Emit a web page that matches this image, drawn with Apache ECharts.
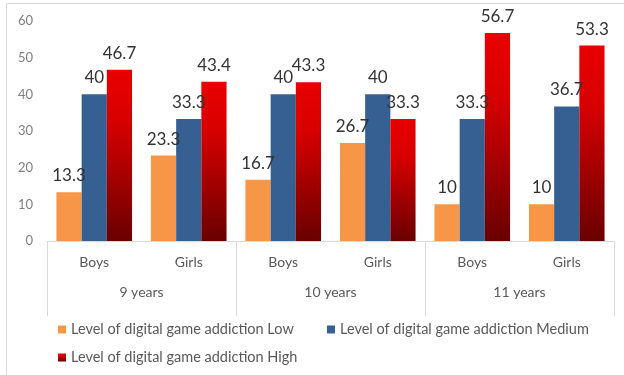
<!DOCTYPE html>
<html>
<head>
<meta charset="utf-8">
<script src="https://cdn.jsdelivr.net/npm/echarts@6/dist/echarts.min.js"></script>
<style>
  html, body { margin: 0; padding: 0; background: #fff; }
  #chart { width: 624px; height: 375px; }
</style>
</head>
<body>
<div id="chart"></div>
<script>
// Category labels: gender within each age group
const genders = ['Boys', 'Girls', 'Boys', 'Girls', 'Boys', 'Girls'];
const ageGroups = ['9 years', '10 years', '11 years'];

// Percentages per addiction level
const lowValues = [13.3, 23.3, 16.7, 26.7, 10, 10];
const mediumValues = [40, 33.3, 40, 40, 33.3, 36.7];
const highValues = [46.7, 43.4, 43.3, 33.3, 56.7, 53.3];

const seriesNames = [
  'Level of digital game addiction Low',
  'Level of digital game addiction Medium',
  'Level of digital game addiction High'
];

const FONT = 'Lato, "Open Sans", sans-serif';

const redGradient = new echarts.graphic.LinearGradient(0, 0, 0, 1, [
  { offset: 0, color: '#e80000' },
  { offset: 0.3, color: '#d80000' },
  { offset: 1, color: '#690000' }
]);

const labelStyle = {
  show: true,
  position: 'top',
  distance: 8,
  color: '#333333',
  fontSize: 17,
  fontFamily: FONT
};

function makeSeries(name, data, color) {
  return {
    name: name,
    type: 'bar',
    data: data,
    barGap: '0%',
    barCategoryGap: '20%',
    itemStyle: { color: color },
    label: labelStyle
  };
}

const legendText = { color: '#595959', fontSize: 14.5, fontFamily: FONT };

function legendAt(left, top, names) {
  return {
    left: left,
    top: top,
    itemWidth: 8,
    itemHeight: 8,
    itemGap: 20,
    icon: 'rect',
    textStyle: legendText,
    data: names
  };
}

const chart = echarts.init(document.getElementById('chart'), null, { renderer: 'canvas' });

chart.setOption({
  animation: false,
  backgroundColor: '#ffffff',
  textStyle: { fontFamily: FONT },
  grid: { left: 47, right: 10, top: 21, bottom: 134, containLabel: false },
  graphic: [
    {
      type: 'polyline',
      shape: { points: [[6.5, 400], [6.5, 3.5], [700, 3.5]] },
      style: { stroke: '#d9d9d9', lineWidth: 1, fill: null },
      silent: true
    }
  ],
  legend: [
    legendAt(53, 317, [seriesNames[0]]),
    legendAt(322, 317, [seriesNames[1]]),
    legendAt(53, 345, [seriesNames[2]])
  ],
  xAxis: [
    {
      type: 'category',
      data: genders,
      position: 'bottom',
      axisLine: { show: true, lineStyle: { color: '#d9d9d9' } },
      axisTick: { show: false },
      axisLabel: { color: '#595959', fontSize: 14, fontFamily: FONT, margin: 14 }
    },
    {
      type: 'category',
      data: ageGroups,
      position: 'bottom',
      axisLine: { show: false },
      axisTick: { show: true, length: 75, lineStyle: { color: '#d9d9d9' } },
      axisLabel: { color: '#595959', fontSize: 14, fontFamily: FONT, margin: 44 }
    }
  ],
  yAxis: {
    type: 'value',
    min: 0,
    max: 60,
    interval: 10,
    axisLine: { show: false },
    axisTick: { show: false },
    splitLine: { show: false },
    axisLabel: { color: '#7f7f7f', fontSize: 13, fontFamily: FONT, margin: 14 }
  },
  series: [
    makeSeries(seriesNames[0], lowValues, '#f79646'),
    makeSeries(seriesNames[1], mediumValues, '#376092'),
    makeSeries(seriesNames[2], highValues, redGradient)
  ]
});
</script>
</body>
</html>
